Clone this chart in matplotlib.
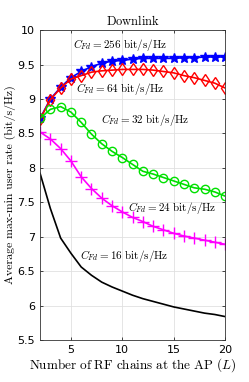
import matplotlib
matplotlib.use("Agg")
import matplotlib.pyplot as plt

plt.rcParams['mathtext.fontset'] = 'cm'
plt.rcParams['font.family'] = ['DejaVu Sans']

L = list(range(2, 21))
rate_256 = [8.72, 9.00, 9.17, 9.31, 9.40, 9.47, 9.52, 9.55, 9.56, 9.58, 9.59, 9.59, 9.59, 9.59, 9.60, 9.60, 9.61, 9.61, 9.61]
rate_64 = [8.71, 8.99, 9.16, 9.29, 9.34, 9.39, 9.41, 9.42, 9.43, 9.43, 9.43, 9.42, 9.40, 9.38, 9.34, 9.31, 9.27, 9.23, 9.16]
rate_32 = [8.72, 8.85, 8.89, 8.81, 8.66, 8.49, 8.35, 8.24, 8.15, 8.05, 7.95, 7.91, 7.86, 7.81, 7.76, 7.71, 7.69, 7.65, 7.59]
rate_24 = [8.52, 8.42, 8.28, 8.10, 7.87, 7.70, 7.56, 7.45, 7.36, 7.28, 7.22, 7.15, 7.10, 7.05, 7.01, 6.98, 6.95, 6.92, 6.89]
rate_16 = [7.92, 7.41, 6.98, 6.76, 6.56, 6.44, 6.34, 6.27, 6.21, 6.15, 6.10, 6.06, 6.02, 5.98, 5.95, 5.92, 5.89, 5.87, 5.84]

fig = plt.figure(figsize=(2.49, 3.82), dpi=100)
ax = fig.add_axes([0.161, 0.110, 0.743, 0.811])

ax.plot(L, rate_256, color='blue', marker='*', markersize=7, lw=1.2)
ax.plot(L, rate_64, color='red', marker='d', markersize=6.5, mfc='none', mew=1.0, lw=1.2)
ax.plot(L, rate_32, color='#00e000', marker='o', markersize=6, mfc='none', mew=1.0, lw=1.2)
ax.plot(L, rate_24, color='magenta', marker='+', markersize=8, mew=1.0, lw=1.2)
ax.plot(L, rate_16, color='black', lw=1.2)

fs = 8
ax.text(9.8, 9.78, r'$C_{Fd} = 256\ \mathrm{bit/s/Hz}$', fontsize=fs, ha='center', va='center')
ax.text(9.8, 9.15, r'$C_{Fd} = 64\ \mathrm{bit/s/Hz}$', fontsize=fs, ha='center', va='center')
ax.text(12.2, 8.69, r'$C_{Fd} = 32\ \mathrm{bit/s/Hz}$', fontsize=fs, ha='center', va='center')
ax.text(14.9, 7.42, r'$C_{Fd} = 24\ \mathrm{bit/s/Hz}$', fontsize=fs, ha='center', va='center')
ax.text(10.2, 6.72, r'$C_{Fd} = 16\ \mathrm{bit/s/Hz}$', fontsize=fs, ha='center', va='center')

ax.set_xlim(2, 20)
ax.set_ylim(5.5, 10)
ax.set_xticks([5, 10, 15, 20])
ax.set_yticks([5.5, 6, 6.5, 7, 7.5, 8, 8.5, 9, 9.5, 10])
ax.set_yticklabels(['5.5', '6', '6.5', '7', '7.5', '8', '8.5', '9', '9.5', '10'])
ax.tick_params(direction='in', labelsize=8, length=2.5, width=0.5, top=True, right=True)
ax.grid(True, color='#e0e0e0', lw=0.6)
for s in ax.spines.values():
    s.set_linewidth(0.6)
    s.set_color('#333333')

ax.set_title(r'$\mathrm{Downlink}$', fontsize=9, pad=4)
ax.set_xlabel(r'$\mathrm{Number\ of\ RF\ chains\ at\ the\ AP}\ (L)$', fontsize=9.5, labelpad=1)
ax.set_ylabel('Average max-min user rate (bit/s/Hz)', family='cmr10', fontsize=8.5, labelpad=1)

fig.savefig('out.png', dpi=100)
